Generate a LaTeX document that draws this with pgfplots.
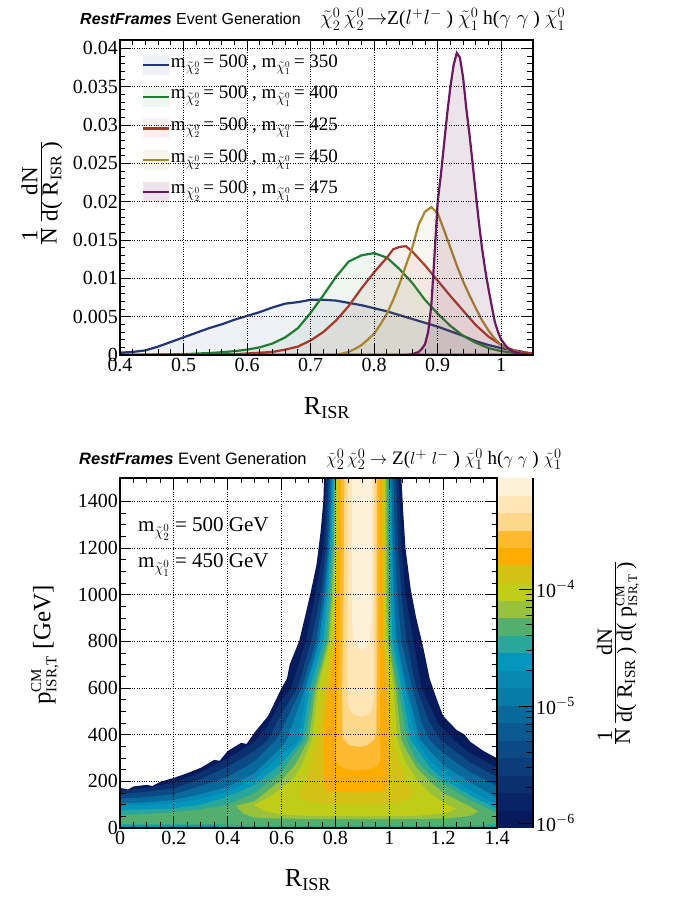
\documentclass[border=0pt]{standalone}
\usepackage{pgfplots}
\pgfplotsset{compat=1.18}
\usepackage{fontspec}
\setmainfont{Liberation Serif}
\newfontfamily\helv{Liberation Sans}
\newcommand{\fs}[1]{\fontsize{#1}{#1}\selectfont}
\definecolor{hblue}{HTML}{23357A}
\definecolor{hgreen}{HTML}{1E7F32}
\definecolor{hred}{HTML}{A8372B}
\definecolor{hgold}{HTML}{A8862E}
\definecolor{hpurple}{HTML}{6C185E}
\definecolor{cL1}{HTML}{061A5C}
\definecolor{cL2}{HTML}{0A2266}
\definecolor{cL3}{HTML}{0B3070}
\definecolor{cL4}{HTML}{0C3C79}
\definecolor{cL5}{HTML}{0B4A84}
\definecolor{cL6}{HTML}{0A5A90}
\definecolor{cL7}{HTML}{086A9C}
\definecolor{cL8}{HTML}{077CA8}
\definecolor{cL9}{HTML}{0688B2}
\definecolor{cL10}{HTML}{0496BC}
\definecolor{cL11}{HTML}{28A79A}
\definecolor{cL12}{HTML}{52AF6E}
\definecolor{cL13}{HTML}{98C23C}
\definecolor{cL14}{HTML}{BFCD18}
\definecolor{cL15}{HTML}{D3C215}
\definecolor{cL16}{HTML}{FEAC00}
\definecolor{cL17}{HTML}{FDB930}
\definecolor{cL18}{HTML}{FDD88A}
\definecolor{cL19}{HTML}{FEE6B8}
\definecolor{cL20}{HTML}{FEF1D9}
\pgfplotsset{
  rootstyle/.style={
    scale only axis, anchor=south west,
    /pgf/number format/assume math mode=true,
    /pgf/number format/1000 sep={},
    tick label style={font=\fs{20}},
    grid=major, major grid style={black, dotted, line width=0.8pt},
    axis on top, axis line style={line width=1.5pt},
    major tick length=11pt, minor tick length=5.5pt,
    tick style={black, line width=0.9pt},
    scaled ticks=false,
  },
  hist/.style={draw=#1, line width=2.2pt, fill=#1, fill opacity=0.07},
}
\begin{document}
\begin{tikzpicture}
\useasboundingbox (0pt,0pt) rectangle (673pt,898pt);
% ---------------- top panel ----------------
\begin{axis}[rootstyle,
  at={(120pt,543pt)}, width=413pt, height=315pt,
  xmin=0.4, xmax=1.05, ymin=0, ymax=0.0411,
  xtick={0.4,0.5,0.6,0.7,0.8,0.9,1}, minor x tick num=4,
  ytick={0,0.005,0.01,0.015,0.02,0.025,0.03,0.035,0.04}, minor y tick num=4,
  yticklabel style={/pgf/number format/fixed, /pgf/number format/precision=3, inner xsep=2pt},
  xticklabel style={/pgf/number format/fixed, /pgf/number format/precision=2},
  legend style={at={(0.045,0.965)}, anchor=north west, draw=none, fill=none,
    font=\fs{19}, row sep=7.6pt, nodes={inner sep=1pt, text height=13pt, text depth=9pt}},
  legend cell align=left,
  legend image code/.code={
    \fill[#1, draw=none] (0pt,-10pt) rectangle (26pt,10pt);
    \draw[#1, fill=none] (0pt,0pt) -- (26pt,0pt);
  },
]
\addplot[hist=hblue] coordinates {
(0.40,0.0003) (0.42,0.0004) (0.44,0.0006) (0.46,0.0011) (0.48,0.0017) (0.50,0.0023)
(0.52,0.0029) (0.54,0.0035) (0.56,0.0040) (0.58,0.0046) (0.60,0.0051) (0.62,0.0056)
(0.64,0.0062) (0.66,0.0067) (0.68,0.0069) (0.70,0.0072) (0.72,0.0072) (0.74,0.0071)
(0.76,0.0068) (0.78,0.0065) (0.80,0.0061) (0.82,0.0057) (0.84,0.0052) (0.86,0.0047)
(0.88,0.0042) (0.90,0.0037) (0.92,0.0031) (0.94,0.0025) (0.96,0.0018) (0.98,0.0013)
(1.00,0.0009) (1.02,0.0006) (1.04,0.0003) (1.05,0.0002)} \closedcycle;
\addlegendentry{m$_{\tilde{\chi}^{0}_{2}}$\,= 500 , m$_{\tilde{\chi}^{0}_{1}}$\,= 350}
\addplot[hist=hgreen] coordinates {
(0.40,0) (0.50,0.0001) (0.55,0.0003) (0.58,0.0005) (0.60,0.0007) (0.62,0.0010)
(0.64,0.0015) (0.66,0.0023) (0.68,0.0035) (0.70,0.0055) (0.72,0.0078) (0.74,0.0102)
(0.76,0.0122) (0.78,0.0130) (0.80,0.0133) (0.82,0.0127) (0.84,0.0112) (0.86,0.0094)
(0.88,0.0072) (0.90,0.0054) (0.92,0.0038) (0.94,0.0025) (0.96,0.0016) (0.98,0.0009)
(1.00,0.0005) (1.02,0.0003) (1.04,0.0001) (1.05,0.0001)} \closedcycle;
\addlegendentry{m$_{\tilde{\chi}^{0}_{2}}$\,= 500 , m$_{\tilde{\chi}^{0}_{1}}$\,= 400}
\addplot[hist=hred] coordinates {
(0.40,0) (0.58,0.0001) (0.60,0.0002) (0.62,0.0003) (0.64,0.0004) (0.66,0.0007)
(0.68,0.0011) (0.70,0.0019) (0.72,0.0030) (0.74,0.0045) (0.76,0.0064) (0.78,0.0087)
(0.80,0.0108) (0.82,0.0127) (0.83,0.0138) (0.84,0.0141) (0.85,0.0142) (0.86,0.0135)
(0.88,0.0117) (0.90,0.0097) (0.92,0.0077) (0.94,0.0058) (0.96,0.0039) (0.98,0.0024)
(1.00,0.0013) (1.02,0.0006) (1.04,0.0003) (1.05,0.0002)} \closedcycle;
\addlegendentry{m$_{\tilde{\chi}^{0}_{2}}$\,= 500 , m$_{\tilde{\chi}^{0}_{1}}$\,= 425}
\addplot[hist=hgold] coordinates {
(0.40,0) (0.74,0) (0.75,0.0002) (0.76,0.0004) (0.77,0.0008) (0.78,0.0013) (0.79,0.0020)
(0.80,0.0028) (0.81,0.0040) (0.82,0.0054) (0.83,0.0072) (0.84,0.0093) (0.85,0.0117)
(0.86,0.0140) (0.87,0.0170) (0.88,0.0187) (0.89,0.0193) (0.90,0.0185) (0.91,0.0163)
(0.92,0.0140) (0.93,0.0117) (0.94,0.0096) (0.95,0.0078) (0.96,0.0061) (0.97,0.0045)
(0.98,0.0032) (0.99,0.0021) (1.00,0.0013) (1.01,0.0008) (1.02,0.0005) (1.03,0.0002)
(1.04,0.0001) (1.05,0)} \closedcycle;
\addlegendentry{m$_{\tilde{\chi}^{0}_{2}}$\,= 500 , m$_{\tilde{\chi}^{0}_{1}}$\,= 450}
\addplot[hist=hpurple, fill opacity=0.12] coordinates {
(0.40,0) (0.85,0) (0.86,0.0001) (0.87,0.0004) (0.875,0.0008) (0.88,0.0014) (0.885,0.0030)
(0.89,0.0065) (0.895,0.0130) (0.90,0.0200) (0.905,0.0235) (0.91,0.0275) (0.915,0.0315)
(0.92,0.0350) (0.925,0.0378) (0.93,0.0394) (0.935,0.0388) (0.94,0.0362) (0.945,0.0322)
(0.95,0.0288) (0.955,0.0250) (0.96,0.0210) (0.965,0.0172) (0.97,0.0138) (0.975,0.0110)
(0.98,0.0086) (0.985,0.0064) (0.99,0.0043) (0.995,0.0030) (1.00,0.0020) (1.01,0.0009)
(1.02,0.0004) (1.03,0.0002) (1.04,0.0001) (1.05,0)} \closedcycle;
\addlegendentry{m$_{\tilde{\chi}^{0}_{2}}$\,= 500 , m$_{\tilde{\chi}^{0}_{1}}$\,= 475}
\end{axis}
% ---------------- bottom panel ----------------
\begin{axis}[rootstyle,
  at={(120pt,70pt)}, width=377pt, height=350pt,
  xmin=0, xmax=1.4, ymin=0, ymax=1500,
  xtick={0,0.2,0.4,0.6,0.8,1,1.2,1.4}, minor x tick num=3,
  ytick={0,200,400,600,800,1000,1200,1400}, minor y tick num=3,
  xticklabel style={/pgf/number format/fixed, /pgf/number format/precision=1},
  yticklabel style={inner xsep=2pt},
]
\addplot[draw=none, fill=cL1] coordinates {(0,0) (0,172) (0.03,165) (0.05,178) (0.1,185) (0.12,180) (0.15,198) (0.2,215) (0.25,235) (0.3,258) (0.35,292) (0.37,288) (0.4,330) (0.45,365) (0.47,360) (0.5,410) (0.55,480) (0.6,600) (0.62,640) (0.63,700) (0.665,800) (0.69,920) (0.71,1020) (0.73,1130) (0.745,1270) (0.755,1400) (0.758,1500) (1.045,1500) (1.052,1350) (1.06,1200) (1.08,1020) (1.1,900) (1.125,780) (1.15,640) (1.18,540) (1.2,480) (1.25,420) (1.28,400) (1.3,370) (1.35,330) (1.4,299) (1.4,0)};
\addplot[draw=none, fill=cL3] coordinates {(0,0) (0,160) (0.1,172) (0.2,195) (0.3,240) (0.4,298) (0.5,370) (0.55,440) (0.6,549) (0.635,600) (0.69,800) (0.725,1000) (0.755,1200) (0.766,1500) (1.035,1500) (1.045,1200) (1.06,1000) (1.09,800) (1.12,600) (1.18,450) (1.24,377) (1.3,320) (1.4,260) (1.4,0)};
\addplot[draw=none, fill=cL5] coordinates {(0,0) (0,145) (0.1,155) (0.2,170) (0.3,210) (0.4,262) (0.5,330) (0.55,377) (0.6,491) (0.66,600) (0.71,800) (0.745,1000) (0.765,1200) (0.774,1500) (1.025,1500) (1.033,1200) (1.045,1000) (1.065,800) (1.10,600) (1.15,450) (1.19,377) (1.3,280) (1.4,220) (1.4,0)};
\addplot[draw=none, fill=cL7] coordinates {(0,0) (0,125) (0.1,132) (0.2,145) (0.3,180) (0.4,219) (0.5,285) (0.58,377) (0.6,420) (0.675,600) (0.728,800) (0.755,1000) (0.772,1200) (0.781,1500) (1.015,1500) (1.022,1200) (1.03,1000) (1.045,800) (1.085,600) (1.12,450) (1.15,377) (1.2,320) (1.3,240) (1.4,180) (1.4,0)};
\addplot[draw=none, fill=cL9] coordinates {(0,0) (0,105) (0.1,110) (0.2,120) (0.3,145) (0.4,177) (0.5,235) (0.6,347) (0.62,377) (0.688,600) (0.738,800) (0.762,1000) (0.777,1200) (0.786,1500) (1.007,1500) (1.013,1200) (1.018,1000) (1.028,800) (1.065,600) (1.115,377) (1.15,330) (1.2,270) (1.3,195) (1.4,130) (1.4,0)};
\addplot[draw=none, fill=cL10] coordinates {(0,0) (0,95) (0.1,100) (0.2,106) (0.3,125) (0.4,156) (0.5,210) (0.6,313) (0.662,377) (0.693,600) (0.743,800) (0.765,1000) (0.78,1200) (0.789,1500) (1.003,1500) (1.01,1200) (1.014,1000) (1.021,800) (1.058,600) (1.1,377) (1.15,290) (1.2,235) (1.3,160) (1.4,100) (1.4,0)};
\addplot[draw=none, fill=cL11] coordinates {(0,12) (0.35,12) (0.4,0) (1.3,0) (1.4,8) (1.4,81) (1.3,140) (1.2,210) (1.15,260) (1.08,377) (1.045,600) (1.012,800) (1.006,1000) (1.003,1200) (0.998,1500) (0.793,1500) (0.785,1200) (0.772,1000) (0.755,800) (0.705,600) (0.675,377) (0.6,277) (0.5,185) (0.4,134) (0.3,100) (0.2,84) (0.1,80) (0,77)};
\addplot[draw=none, fill=cL12] coordinates {(0,18) (0.4,15) (0.5,10) (1.3,10) (1.4,18) (1.4,63) (1.3,120) (1.2,190) (1.15,230) (1.1,290) (1.065,377) (1.033,600) (1.003,800) (0.999,1000) (0.997,1200) (0.993,1500) (0.797,1500) (0.79,1200) (0.78,1000) (0.767,800) (0.718,600) (0.687,377) (0.6,241) (0.5,150) (0.4,100) (0.3,80) (0.2,68) (0.1,60) (0,56)};
\addplot[draw=none, fill=cL13] coordinates {(0.43,95) (0.46,60) (0.5,45) (0.6,40) (0.9,38) (1.2,40) (1.3,52) (1.33,70) (1.3,92) (1.2,150) (1.15,200) (1.1,260) (1.065,330) (1.045,377) (1.024,600) (0.996,800) (0.993,1000) (0.991,1200) (0.989,1500) (0.80,1500) (0.795,1200) (0.787,1000) (0.774,800) (0.727,600) (0.70,377) (0.65,270) (0.6,206) (0.5,115) (0.43,95)};
\addplot[draw=none, fill=cL14] coordinates {(0.5,100) (0.53,75) (0.6,58) (0.7,52) (0.9,50) (1.1,52) (1.2,62) (1.25,80) (1.2,110) (1.15,150) (1.1,210) (1.06,280) (1.03,377) (1.015,600) (0.99,800) (0.987,1000) (0.985,1200) (0.985,1500) (0.803,1500) (0.799,1200) (0.792,1000) (0.78,800) (0.736,600) (0.712,377) (0.68,280) (0.65,220) (0.6,170) (0.55,130) (0.5,100)};
\addplot[draw=none, fill=cL15] coordinates {(0.66,135) (0.7,112) (0.8,102) (0.9,100) (1.0,104) (1.06,118) (1.09,145) (1.06,210) (1.03,300) (1.015,377) (1.003,600) (0.985,800) (0.981,1000) (0.979,1200) (0.978,1500) (0.807,1500) (0.805,1200) (0.799,1000) (0.79,800) (0.755,600) (0.73,377) (0.7,250) (0.68,180) (0.66,135)};
\addplot[draw=none, fill=cL16] coordinates {(0.812,1500) (0.81,1200) (0.805,1000) (0.798,800) (0.774,600) (0.755,420) (0.755,200) (0.765,165) (0.78,155) (0.88,152) (0.97,155) (0.985,165) (0.996,200) (0.996,377) (0.99,600) (0.978,800) (0.974,1000) (0.972,1200) (0.972,1500)};
\addplot[draw=none, fill=cL17] coordinates {(0.82,1500) (0.819,1200) (0.815,800) (0.81,600) (0.805,400) (0.8,300) (0.81,270) (0.84,252) (0.88,248) (0.93,252) (0.96,270) (0.968,300) (0.966,400) (0.965,600) (0.963,800) (0.963,1500)};
\addplot[draw=none, fill=cL18] coordinates {(0.833,1500) (0.832,1200) (0.828,800) (0.825,600) (0.826,420) (0.83,380) (0.85,355) (0.885,348) (0.92,355) (0.945,380) (0.952,420) (0.953,600) (0.953,1500)};
\addplot[draw=none, fill=cL19] coordinates {(0.846,1500) (0.845,1200) (0.845,800) (0.845,560) (0.85,510) (0.87,485) (0.895,478) (0.92,485) (0.937,510) (0.943,560) (0.943,1500)};
\addplot[draw=none, fill=cL20] coordinates {(0.862,1500) (0.862,900) (0.867,810) (0.882,775) (0.898,765) (0.913,775) (0.928,810) (0.934,900) (0.934,1500)};
\end{axis}
% ---------------- colour scale ----------------
\begin{axis}[rootstyle, grid=none,
  at={(497pt,70pt)}, width=36pt, height=350pt,
  xmin=0, xmax=1, ymode=log, ymin=9.057e-7, ymax=8.892e-4,
  xtick=\empty, ytick={1e-6,1e-5,1e-4},
  yticklabels={10\textsuperscript{$-$6},10\textsuperscript{$-$5},10\textsuperscript{$-$4}},
  ytick pos=right, yticklabel pos=right,
  yticklabel style={inner xsep=3pt},
  separate axis lines, x axis line style={draw=none},
  major tick length=14pt, minor tick length=7pt,
]
\addplot[draw=none, fill=cL1] coordinates {(0,9.057e-7) (1,9.057e-7) (1,1.278e-6) (0,1.278e-6)};
\addplot[draw=none, fill=cL2] coordinates {(0,1.278e-6) (1,1.278e-6) (1,1.804e-6) (0,1.804e-6)};
\addplot[draw=none, fill=cL3] coordinates {(0,1.804e-6) (1,1.804e-6) (1,2.545e-6) (0,2.545e-6)};
\addplot[draw=none, fill=cL4] coordinates {(0,2.545e-6) (1,2.545e-6) (1,3.592e-6) (0,3.592e-6)};
\addplot[draw=none, fill=cL5] coordinates {(0,3.592e-6) (1,3.592e-6) (1,5.070e-6) (0,5.070e-6)};
\addplot[draw=none, fill=cL6] coordinates {(0,5.070e-6) (1,5.070e-6) (1,7.155e-6) (0,7.155e-6)};
\addplot[draw=none, fill=cL7] coordinates {(0,7.155e-6) (1,7.155e-6) (1,1.0097e-5) (0,1.0097e-5)};
\addplot[draw=none, fill=cL8] coordinates {(0,1.0097e-5) (1,1.0097e-5) (1,1.425e-5) (0,1.425e-5)};
\addplot[draw=none, fill=cL9] coordinates {(0,1.425e-5) (1,1.425e-5) (1,2.011e-5) (0,2.011e-5)};
\addplot[draw=none, fill=cL10] coordinates {(0,2.011e-5) (1,2.011e-5) (1,2.838e-5) (0,2.838e-5)};
\addplot[draw=none, fill=cL11] coordinates {(0,2.838e-5) (1,2.838e-5) (1,4.005e-5) (0,4.005e-5)};
\addplot[draw=none, fill=cL12] coordinates {(0,4.005e-5) (1,4.005e-5) (1,5.652e-5) (0,5.652e-5)};
\addplot[draw=none, fill=cL13] coordinates {(0,5.652e-5) (1,5.652e-5) (1,7.977e-5) (0,7.977e-5)};
\addplot[draw=none, fill=cL14] coordinates {(0,7.977e-5) (1,7.977e-5) (1,1.1258e-4) (0,1.1258e-4)};
\addplot[draw=none, fill=cL15] coordinates {(0,1.1258e-4) (1,1.1258e-4) (1,1.589e-4) (0,1.589e-4)};
\addplot[draw=none, fill=cL16] coordinates {(0,1.589e-4) (1,1.589e-4) (1,2.242e-4) (0,2.242e-4)};
\addplot[draw=none, fill=cL17] coordinates {(0,2.242e-4) (1,2.242e-4) (1,3.164e-4) (0,3.164e-4)};
\addplot[draw=none, fill=cL18] coordinates {(0,3.164e-4) (1,3.164e-4) (1,4.466e-4) (0,4.466e-4)};
\addplot[draw=none, fill=cL19] coordinates {(0,4.466e-4) (1,4.466e-4) (1,6.302e-4) (0,6.302e-4)};
\addplot[draw=none, fill=cL20] coordinates {(0,6.302e-4) (1,6.302e-4) (1,8.892e-4) (0,8.892e-4)};
\end{axis}
% ---------------- texts ----------------
\node[anchor=base west, inner sep=0] at (80pt,873pt) {\helv\fs{16}\bfseries\itshape RestFrames\ \mdseries\upshape Event Generation};
\node[anchor=base west, inner sep=0] at (320pt,873pt) {\fs{19.5}$\tilde{\chi}^{0}_{2}\,\tilde{\chi}^{0}_{2}\!\rightarrow$Z($l^{+}l^{-}$ ) $\tilde{\chi}^{0}_{1}$ h($\gamma\;\gamma$ ) $\tilde{\chi}^{0}_{1}$};
\node[anchor=base west, inner sep=0] at (79pt,433pt) {\helv\fs{16.5}\bfseries\itshape RestFrames\ \mdseries\upshape Event Generation};
\node[anchor=base west, inner sep=0] at (326pt,433pt) {\fs{19}$\tilde{\chi}^{0}_{2}\,\tilde{\chi}^{0}_{2}\rightarrow$ Z($l^{+}$ $l^{-}$ ) $\tilde{\chi}^{0}_{1}$ h($\gamma\;\gamma$ ) $\tilde{\chi}^{0}_{1}$};
\node[rotate=90] at (42pt,705pt) {\fs{23}$\frac{\mbox{1}}{\mbox{N}}\,\frac{\mbox{dN}}{\mbox{d( R\textsubscript{ISR} )}}$};
\node at (327pt,490pt) {\fs{26}R\textsubscript{ISR}};
\node at (308pt,18pt) {\fs{26}R\textsubscript{ISR}};
\node[rotate=90] at (45pt,253pt) {\fs{25}\mbox{p}$^{\mbox{\fs{15}CM}}_{\mbox{\fs{15}ISR,T}}$ [GeV]};
\node[rotate=90] at (618pt,245pt) {\fs{22}$\frac{\mbox{1}}{\mbox{N}}\,\frac{\mbox{dN}}{\mbox{d( R\textsubscript{ISR} ) d( p$^{\mbox{\fs{13}CM}}_{\mbox{\fs{13}ISR,T}}$ )}}$};
\node[anchor=base west, inner sep=0] at (138pt,366pt) {\fs{21}m$_{\tilde{\chi}^{0}_{2}}$ = 500 GeV};
\node[anchor=base west, inner sep=0] at (138pt,330pt) {\fs{21}m$_{\tilde{\chi}^{0}_{1}}$ = 450 GeV};
\end{tikzpicture}
\end{document}
